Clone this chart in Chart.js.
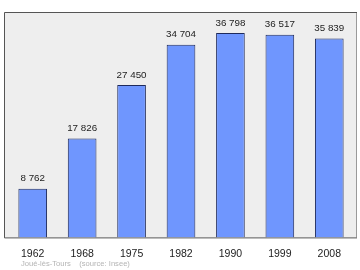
<!DOCTYPE html>
<html>
<head>
<meta charset="utf-8">
<script src="https://cdn.jsdelivr.net/npm/chart.js@4/dist/chart.umd.min.js"></script>
<style>
  html, body { margin: 0; padding: 0; background: #fff; }
  #wrap { width: 360px; height: 270px; }
</style>
</head>
<body>
<div id="wrap"><canvas id="chart" width="360" height="270"></canvas></div>
<script>
const years = ['1962', '1968', '1975', '1982', '1990', '1999', '2008'];
const population = [8762, 17826, 27450, 34704, 36798, 36517, 35839];
const sourceText = 'Joué-lès-Tours    (source: Insee)';

// format 36798 -> "36 798"
const fmt = v => String(v).replace(/\B(?=(\d{3})+(?!\d))/g, ' ');

// Frame, value labels and source line
const decor = {
  id: 'decor',
  beforeDraw(chart) {
    const { ctx, chartArea: a } = chart;
    const l = a.left - 4, r = a.right + 3, t = a.top, b = a.bottom;
    ctx.save();
    ctx.fillStyle = '#eeeeee';
    ctx.fillRect(l, t, r - l, b - t);
    ctx.lineWidth = 1;
    ctx.strokeStyle = '#9a9a9a';
    ctx.beginPath();
    ctx.moveTo(r - 0.5, t);
    ctx.lineTo(r - 0.5, b);
    ctx.stroke();
    ctx.strokeStyle = '#555555';
    ctx.beginPath();
    ctx.moveTo(r, t + 0.5);
    ctx.lineTo(l + 0.5, t + 0.5);
    ctx.lineTo(l + 0.5, b + 0.5);
    ctx.lineTo(r, b + 0.5);
    ctx.stroke();
    ctx.restore();
  },
  afterDatasetsDraw(chart) {
    const { ctx } = chart;
    const meta = chart.getDatasetMeta(0);
    ctx.save();
    ctx.font = '9.8px "Liberation Sans", Arial, sans-serif';
    ctx.fillStyle = '#222';
    ctx.textAlign = 'center';
    ctx.textBaseline = 'middle';
    meta.data.forEach((bar, i) => {
      ctx.fillText(fmt(population[i]), bar.x, bar.y - 10);
    });
    ctx.font = '7.6px "Liberation Sans", Arial, sans-serif';
    ctx.fillStyle = '#b4b4b4';
    ctx.textAlign = 'left';
    ctx.fillText(sourceText, 21, 264);
    ctx.restore();
  }
};

new Chart(document.getElementById('chart'), {
  type: 'bar',
  data: {
    labels: years,
    datasets: [{
      data: population,
      backgroundColor: '#6f96fe',
      borderColor: '#1e2a5c',
      borderWidth: 1,
      barPercentage: 0.58,
      categoryPercentage: 1
    }]
  },
  options: {
    responsive: false,
    animation: false,
    layout: { padding: { left: 8, right: 6, top: 12, bottom: 0 } },
    plugins: {
      legend: { display: false },
      tooltip: { enabled: false }
    },
    scales: {
      x: {
        grid: { display: false, drawTicks: false },
        border: { display: false },
        ticks: {
          color: '#222',
          padding: 10,
          font: { family: '"Liberation Sans", Arial, sans-serif', size: 10.5 }
        }
      },
      y: {
        display: false,
        min: 0,
        max: 40600
      }
    }
  },
  plugins: [decor]
});
</script>
</body>
</html>
